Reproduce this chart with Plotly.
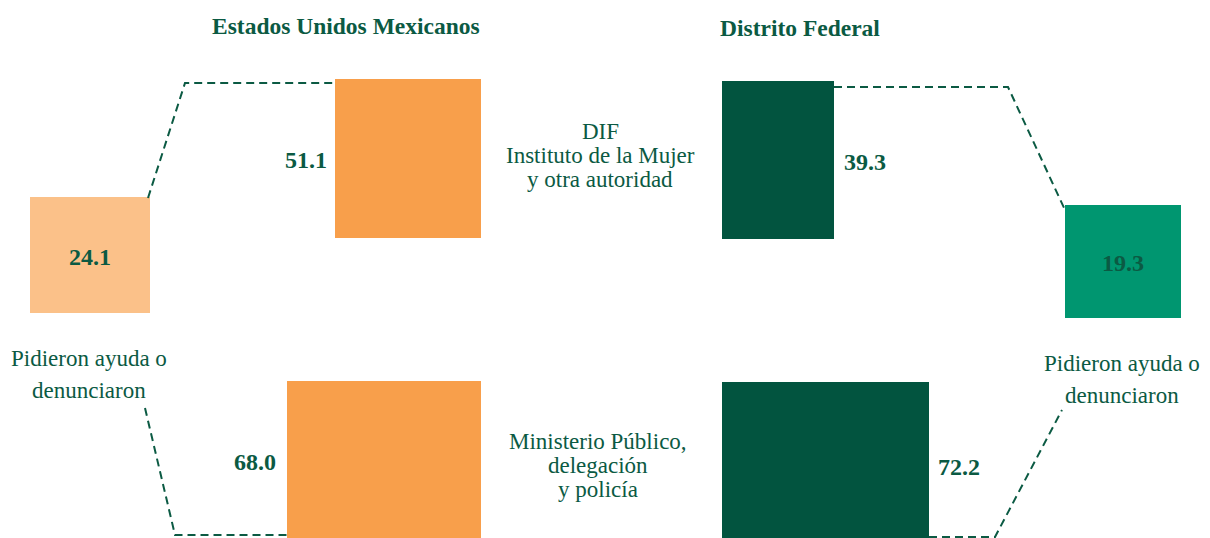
import plotly.graph_objects as go

# ---- data ----
panels = ["Estados Unidos Mexicanos", "Distrito Federal"]
total_label = ["Pidieron ayuda o", "denunciaron"]
categories = [["DIF", "Instituto de la Mujer", "y otra autoridad"],
              ["Ministerio Público,", "delegación", "y policía"]]
eum_total = 24.1
eum_values = [51.1, 68.0]
df_total = 19.3
df_values = [39.3, 72.2]

# ---- styling / layout geometry (pixel-like axis units) ----
TXT = "#0b5a43"
C_LORANGE = "#fbc189"
C_ORANGE = "#f89f4b"
C_DGREEN = "#02543f"
C_TEAL = "#009670"
FONT = "Liberation Serif"
OFF = 8  # page body margin compensation

fig = go.Figure()

# boxes: (x0, y0, x1, y1, color)
boxes = [
    (30, 197, 150, 313, C_LORANGE),   # EUM total
    (335, 79, 481, 238, C_ORANGE),    # EUM cat 1
    (287, 381, 481, 560, C_ORANGE),   # EUM cat 2
    (1065, 205, 1181, 318, C_TEAL),   # DF total
    (722, 81, 834, 239, C_DGREEN),    # DF cat 1
    (722, 382, 929, 560, C_DGREEN),   # DF cat 2
]
for x0, y0, x1, y1, c in boxes:
    fig.add_shape(type="rect", x0=x0, y0=y0, x1=x1, y1=y1, xref="x", yref="y",
                  fillcolor=c, line=dict(width=0), layer="below")

# dashed connectors
connectors = [
    ([148, 185, 335], [198, 83, 83]),
    ([145, 175, 287], [408, 535, 535]),
    ([834, 1008, 1065], [87, 87, 210]),
    ([929, 995, 1062], [537, 537, 410]),
]
for xs, ys in connectors:
    fig.add_trace(go.Scatter(x=xs, y=ys, mode="lines", hoverinfo="skip",
                             line=dict(color=TXT, width=2, dash="8px,5px"),
                             showlegend=False))

def ann(x, y, text, size, bold=False, xanchor="center"):
    fig.add_annotation(x=x, y=y, xref="x", yref="y", text=f"<b>{text}</b>" if bold else text,
                       showarrow=False, xanchor=xanchor, yanchor="middle",
                       font=dict(family=FONT, size=size, color=TXT), align="center")

def lines(x, y0, items, spacing, size):
    for i, t in enumerate(items):
        ann(x, y0 + i * spacing, t, size)

# titles
ann(346, 26, panels[0], 23.5, bold=True)
ann(800, 28, panels[1], 23.5, bold=True)

# values
ann(90, 257, f"{eum_total:.1f}", 24, bold=True)
ann(329, 160, f"{eum_values[0]:.1f}", 24, bold=True, xanchor="right")
ann(278, 462, f"{eum_values[1]:.1f}", 24, bold=True, xanchor="right")
ann(1123, 263, f"{df_total:.1f}", 24, bold=True)
ann(842, 162, f"{df_values[0]:.1f}", 24, bold=True, xanchor="left")
ann(936, 467, f"{df_values[1]:.1f}", 24, bold=True, xanchor="left")

# category labels
lines(600, 131, categories[0], 24, 23)
lines(598, 441, categories[1], 24, 23)

# totals labels
lines(89, 358, total_label, 32, 23)
lines(1122, 363, total_label, 32, 23)

fig.update_layout(
    width=1210, height=538,
    margin=dict(l=0, r=0, t=0, b=0),
    paper_bgcolor="white", plot_bgcolor="white",
    xaxis=dict(range=[OFF, 1210 + OFF], visible=False, fixedrange=True),
    yaxis=dict(range=[538 + OFF, OFF], visible=False, fixedrange=True),
    showlegend=False,
)

fig.write_html("out.html")
